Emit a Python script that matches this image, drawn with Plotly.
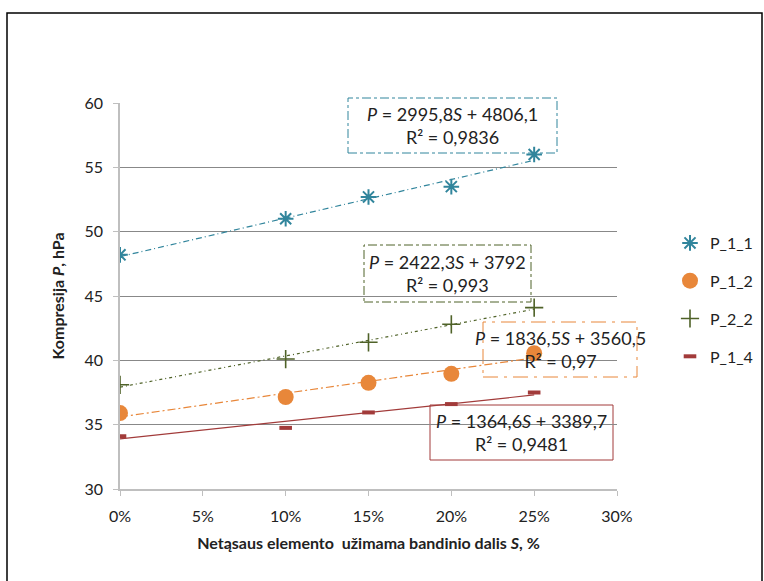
import plotly.graph_objects as go

S = [0.0, 0.10, 0.15, 0.20, 0.25]
names = ["P_1_1", "P_1_2", "P_2_2", "P_1_4"]
P_1_1 = [48.2, 51.0, 52.7, 53.5, 56.0]
P_1_2 = [35.9, 37.15, 38.25, 38.95, 40.55]
P_2_2 = [38.1, 40.1, 41.4, 42.8, 44.1]
P_1_4 = [34.1, 34.75, 35.95, 36.6, 37.5]
series = [P_1_1, P_1_2, P_2_2, P_1_4]
# trendline coefficients (P = a*S + b, shown in hPa*100)
slopes = [2995.8, 1836.5, 2422.3, 1364.6]
intercepts = [4806.1, 3560.5, 3792.0, 3389.7]
r2 = ["0,9836", "0,97", "0,993", "0,9481"]
eq_labels = ["2995,8", "1836,5", "2422,3", "1364,6"]
int_labels = ["4806,1", "3560,5", "3792", "3389,7"]
x_ticks = [0, 0.05, 0.10, 0.15, 0.20, 0.25, 0.30]
x_ticktext = ["0%", "5%", "10%", "15%", "20%", "25%", "30%"]

colors = ["#31859C", "#E8873A", "#4F6228", "#A23B3A"]
symbols = ["asterisk-open", "circle", "cross-thin-open", "line-ew-open"]
sizes = [13, 16, 13, 9]
mlw = [2, 0, 1.6, 4]
dashes = ["6px,3px,1px,3px", "8px,3px,2px,3px", "3px,3px,1px,3px", "solid"]

FONT = "Lato, Carlito, sans-serif"
fig = go.Figure()
for i in range(4):
    trend_x = [0, 0.25]
    trend_y = [(intercepts[i] + slopes[i] * s) / 100 for s in trend_x]
    fig.add_trace(go.Scatter(x=trend_x, y=trend_y, mode="lines",
                             line=dict(color=colors[i], width=1.2, dash=dashes[i]),
                             showlegend=False, hoverinfo="skip"))
for i in range(4):
    fig.add_trace(go.Scatter(x=S, y=series[i], mode="markers", name=names[i],
                             legendgroup=names[i],
                             marker=dict(symbol=symbols[i], size=sizes[i], color=colors[i],
                                         line=dict(color=colors[i], width=mlw[i]))))

W, H = 764, 581
L, T = 120, 103
R, B = W - 617, H - 489
PW, PH = W - L - R, H - T - B

def px(x):
    return (x - L) / PW

def py(y):
    return (H - B - y) / PH

boxes = [(348, 98, 557, 153), (483, 322, 637, 377), (364, 245, 531, 302), (430, 405, 613, 460)]
box_dash = ["dashdot", "longdashdot", "dashdot", "solid"]
for i, (x0, y0, x1, y1) in enumerate(boxes):
    fig.add_shape(type="rect", xref="paper", yref="paper",
                  x0=px(x0), x1=px(x1), y0=py(y1), y1=py(y0),
                  line=dict(color=colors[i], width=1, dash=box_dash[i]),
                  fillcolor="rgba(0,0,0,0)", layer="below")
    fig.add_annotation(xref="paper", yref="paper", x=px((x0 + x1) / 2), y=py((y0 + y1) / 2),
                       text=f"<i>P</i> = {eq_labels[i]}<i>S</i> + {int_labels[i]}<br>R² = {r2[i]}",
                       showarrow=False, font=dict(family=FONT, size=18, color="#222"),
                       align="center", xanchor="center", yanchor="middle")

# outer chart border
fig.add_shape(type="rect", xref="paper", yref="paper",
              x0=px(7), x1=px(762), y0=py(600), y1=py(13),
              line=dict(color="black", width=1.5), fillcolor="rgba(0,0,0,0)")

fig.update_layout(
    width=W, height=H,
    margin=dict(l=L, r=R, t=T, b=B, autoexpand=False),
    paper_bgcolor="white", plot_bgcolor="white",
    font=dict(family=FONT, size=16, color="#222"),
    legend=dict(x=px(670), y=py(300), xanchor="left", yanchor="middle",
                font=dict(size=16), tracegroupgap=14, itemwidth=30,
                bgcolor="rgba(0,0,0,0)"),
    xaxis=dict(range=[0, 0.3], tickvals=x_ticks, ticktext=x_ticktext,
               showgrid=False, showline=True, linecolor="#BFBFBF", linewidth=1.5,
               ticks="outside", tickcolor="#BFBFBF", ticklen=5, ticklabelstandoff=7,
               title=dict(text="<b>Netąsaus elemento  užimama bandinio dalis <i>S</i>, %</b>",
                          font=dict(size=16), standoff=14),
               zeroline=False),
    yaxis=dict(range=[30, 60], dtick=5, showgrid=True, gridcolor="#888", gridwidth=1,
               showline=True, linecolor="#BFBFBF", linewidth=1.5,
               ticks="outside", tickcolor="#BFBFBF", ticklen=5, ticklabelstandoff=7,
               title=dict(text="<b>Kompresija <i>P</i>, hPa</b>", font=dict(size=16), standoff=16),
               zeroline=False),
)
fig.write_html("out.html", config={"displayModeBar": False},
               post_script="document.body.style.margin='0';document.body.style.overflow='hidden';")
